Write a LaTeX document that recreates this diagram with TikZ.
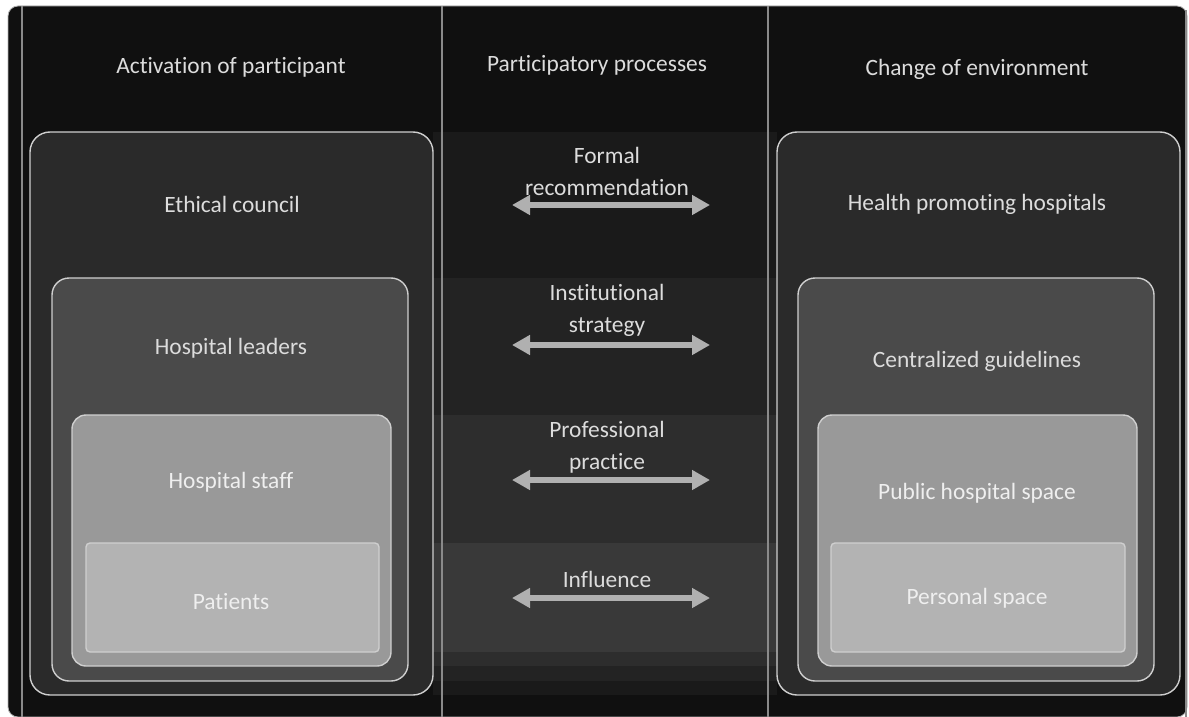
\documentclass[tikz,border=0pt]{standalone}
\usepackage{fontspec}
\setmainfont{Carlito}[Ligatures=NoCommon]
\usetikzlibrary{arrows.meta}

\definecolor{bg}{HTML}{101010}
\definecolor{txt}{HTML}{DCDCDC}
\definecolor{txtlight}{HTML}{EFEFEF}
\definecolor{edge}{HTML}{CFCFCF}
\definecolor{rule}{HTML}{8A8A8A}
\definecolor{arr}{HTML}{B0B0B0}
\definecolor{bandA}{HTML}{1A1A1A}
\definecolor{bandB}{HTML}{232323}
\definecolor{bandC}{HTML}{2D2D2D}
\definecolor{bandD}{HTML}{393939}
\definecolor{fillA}{HTML}{2A2A2A}
\definecolor{fillB}{HTML}{4A4A4A}
\definecolor{fillC}{HTML}{999999}
\definecolor{fillD}{HTML}{B3B3B3}

\begin{document}
\begin{tikzpicture}[x=1pt, y=-1pt,
  lbl/.style={text=txt, font=\fontsize{23.4}{31.5}\selectfont, anchor=base, inner sep=0pt, align=center},
  frame/.style={draw=edge, line width=1.4pt},
  divider/.style={draw=rule, line width=1.5pt},
  link/.style={draw=arr, line width=6pt, {Triangle[length=18pt,width=19pt]}-{Triangle[length=18pt,width=19pt]}}]
  \useasboundingbox (0,0) rectangle (1189,717);

  % dark panel
  \fill[bg, draw=gray!60, line width=0.8pt, rounded corners=10pt] (8,6) rectangle (1187,717);

  % bands behind the middle column
  \fill[bandA] (433,132) rectangle (777,695);
  \fill[bandB] (433,278) rectangle (777,681);
  \fill[bandC] (433,415) rectangle (777,666);
  \fill[bandD] (433,543) rectangle (777,652);

  % column rules
  \draw[divider] (22,6) -- (22,717);
  \draw[divider] (442,6) -- (442,717);
  \draw[divider] (768,6) -- (768,717);
  \draw[divider] (1186,10) -- (1186,717);

  % left boxes
  \draw[frame, fill=fillA, rounded corners=20pt] (30,132) rectangle (433,695);
  \draw[frame, fill=fillB, rounded corners=17pt] (52,278) rectangle (408,681);
  \draw[frame, fill=fillC, rounded corners=14pt] (72,415) rectangle (391,666);
  \draw[frame, fill=fillD, rounded corners=4pt] (86,543) rectangle (379,652);

  % right boxes
  \draw[frame, fill=fillA, rounded corners=20pt] (777,132) rectangle (1180,695);
  \draw[frame, fill=fillB, rounded corners=17pt] (798,278) rectangle (1154,681);
  \draw[frame, fill=fillC, rounded corners=14pt] (818,415) rectangle (1137,666);
  \draw[frame, fill=fillD, rounded corners=4pt] (831,543) rectangle (1125,652);

  % headings
  \node (left-head) [lbl] at (231,74) {Activation of participant};
  \node (mid-head) [lbl] at (597,71) {Participatory processes};
  \node (right-head) [lbl] at (977,75) {Change of environment};

  % participant side
  \node (ethical) [lbl] at (232,212) {Ethical council};
  \node (leaders) [lbl] at (231,354) {Hospital leaders};
  \node (staff) [lbl, text=txtlight] at (231,488) {Hospital staff};
  \node (patients) [lbl, text=txtlight] at (231,609) {Patients};

  % environment side
  \node (hph) [lbl] at (977,210) {Health promoting hospitals};
  \node (guidelines) [lbl] at (977,367) {Centralized guidelines};
  \node (public) [lbl, text=txtlight] at (977,499) {Public hospital space};
  \node (personal) [lbl, text=txtlight] at (977,604) {Personal space};

  % processes (base is the last line)
  \node (formal) [lbl] at (607,195) {Formal\\recommendation};
  \node (strategy) [lbl] at (607,332) {Institutional\\strategy};
  \node (practice) [lbl] at (607,469) {Professional\\practice};
  \node (influence) [lbl] at (607,587) {Influence};

  \coordinate (formal-l) at (512,205);
  \coordinate (formal-r) at (710,205);
  \coordinate (strategy-l) at (512,345);
  \coordinate (strategy-r) at (710,345);
  \coordinate (practice-l) at (512,480);
  \coordinate (practice-r) at (710,480);
  \coordinate (influence-l) at (512,598);
  \coordinate (influence-r) at (710,598);

  \draw[link] (formal-l) -- (formal-r);
  \draw[link] (strategy-l) -- (strategy-r);
  \draw[link] (practice-l) -- (practice-r);
  \draw[link] (influence-l) -- (influence-r);
\end{tikzpicture}
\end{document}
